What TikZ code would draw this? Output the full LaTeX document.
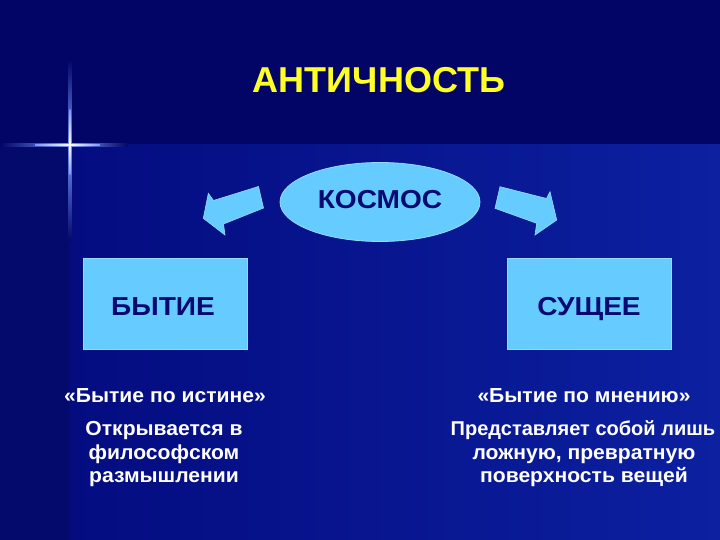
\documentclass[tikz,border=0pt]{standalone}
\usepackage{fontspec}
\setmainfont{Liberation Sans}
\newfontfamily\widefont[FakeStretch=1.08]{Liberation Sans}
\newfontfamily\lowfont[FakeStretch=1.04]{Liberation Sans}
\usetikzlibrary{shapes.geometric}
\definecolor{bgdark}{RGB}{3,5,102}
\definecolor{bgstrip}{RGB}{4,10,108}
\definecolor{bglightL}{RGB}{4,12,128}
\definecolor{bglightR}{RGB}{12,32,160}
\definecolor{skyfill}{RGB}{102,204,255}
\definecolor{skyedge}{RGB}{150,220,255}
\definecolor{navytext}{RGB}{5,10,115}
\definecolor{titleyellow}{RGB}{255,255,40}
\definecolor{starc}{RGB}{120,150,255}
\tikzset{
  skybox/.style={draw=skyedge, line width=0.8pt, fill=skyfill},
  skyarrow/.style={draw=skyedge, line width=0.6pt, fill=skyfill, line join=miter},
  boxtext/.style={text=navytext, font=\widefont\fontsize{26}{30}\selectfont\bfseries, inner sep=0pt, anchor=base},
  lowtext/.style={text=white, font=\lowfont\fontsize{20.3}{23}\selectfont\bfseries, inner sep=0pt, anchor=base},
  lowtextnarrow/.style={text=white, font=\fontsize{20}{23}\selectfont\bfseries, inner sep=0pt, anchor=base},
}
\begin{document}
\begin{tikzpicture}[x=1pt,y=-1pt]
\useasboundingbox (0,0) rectangle (720,540);
% background
\fill[bgdark] (0,0) rectangle (720,540);
\fill[bgstrip] (0,145) rectangle (69,540);
\shade[left color=bglightL, right color=bglightR] (69,145) rectangle (720,540);
% star
\shade[left color=bgdark, right color=starc] (0,143.3) rectangle (70,146.3);
\shade[left color=starc, right color=bgdark] (70,143.3) rectangle (128,146.3);
\shade[top color=bgdark, bottom color=starc] (68.5,60) rectangle (71.5,144.8);
\shade[top color=starc, bottom color=bgstrip] (68.5,144.8) rectangle (71.5,240);
\shade[left color=starc, right color=white] (35,144.3) rectangle (70,145.3);
\shade[left color=white, right color=starc] (70,144.3) rectangle (100,145.3);
\shade[top color=starc, bottom color=white] (69.5,110) rectangle (70.5,144.8);
\shade[top color=white, bottom color=starc] (69.5,144.8) rectangle (70.5,175);
\fill[white] (70,144.8) circle (1.3);
% title
\node[text=titleyellow, font=\fontsize{36}{40}\selectfont\bfseries, inner sep=0pt, anchor=base] (title) at (379,93) {АНТИЧНОСТЬ};
% cosmos ellipse
\node[ellipse, skybox, minimum width=200pt, minimum height=79pt, inner sep=0pt] (kosmos) at (380,202) {};
\node[boxtext] (kosmostext) at (380,208.5) {КОСМОС};
% boxes
\node[skybox, minimum width=164pt, minimum height=91pt, inner sep=0pt] (bytie) at (165,303.5) {};
\node[skybox, minimum width=164pt, minimum height=91pt, inner sep=0pt] (sushchee) at (589,303.5) {};
\node[boxtext] (bytietext) at (163,315) {БЫТИЕ};
\node[boxtext] (sushcheetext) at (589,315) {СУЩЕЕ};
% block arrows
\coordinate (la1) at (258.5,186.5);
\coordinate (la2) at (263.5,208);
\coordinate (la3) at (223.5,224);
\coordinate (la4) at (225,235);
\coordinate (la5) at (203.3,218.3);
\coordinate (la6) at (208.3,193.3);
\coordinate (la7) at (213.5,200.5);
\filldraw[skyarrow] (la1) -- (la2) -- (la3) -- (la4) -- (la5) -- (la6) -- (la7) -- cycle;
\coordinate (ra1) at (500,186.7);
\coordinate (ra2) at (495,208.3);
\coordinate (ra3) at (536.7,223.3);
\coordinate (ra4) at (535,235);
\coordinate (ra5) at (556.7,220);
\coordinate (ra6) at (550,191.7);
\coordinate (ra7) at (546.5,198.5);
\filldraw[skyarrow] (ra1) -- (ra2) -- (ra3) -- (ra4) -- (ra5) -- (ra6) -- (ra7) -- cycle;
% lower texts left
\node[lowtext] (lq) at (165,402) {«Бытие по истине»};
\node[lowtext] (l1) at (164,435.5) {Открывается в};
\node[lowtext] (l2) at (164,459) {философском};
\node[lowtext] (l3) at (164,482.5) {размышлении};
% lower texts right
\node[lowtext] (rq) at (584,402) {«Бытие по мнению»};
\node[lowtextnarrow] (r1) at (583,435.5) {Представляет собой лишь};
\node[lowtext] (r2) at (584,459) {ложную, превратную};
\node[lowtext] (r3) at (584,482.5) {поверхность вещей};
\end{tikzpicture}
\end{document}
